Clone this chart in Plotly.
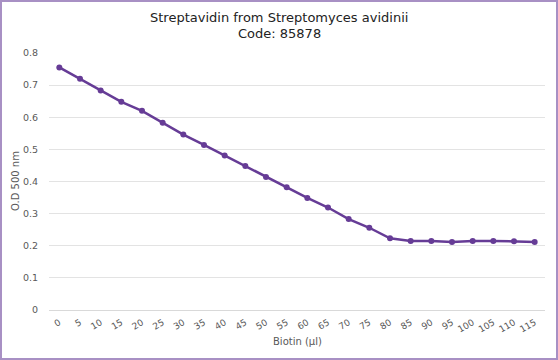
import plotly.graph_objects as go

biotin = [0, 5, 10, 15, 20, 25, 30, 35, 40, 45, 50, 55, 60, 65, 70, 75, 80, 85, 90, 95, 100, 105, 110, 115]
od500 = [0.755, 0.720, 0.683, 0.648, 0.620, 0.583, 0.546, 0.514, 0.481, 0.448, 0.414,
         0.382, 0.349, 0.319, 0.283, 0.256, 0.223, 0.215, 0.215, 0.212, 0.215, 0.215, 0.214, 0.212]
y_ticks = [0, 0.1, 0.2, 0.3, 0.4, 0.5, 0.6, 0.7, 0.8]
y_labels = ["0", "0.1", "0.2", "0.3", "0.4", "0.5", "0.6", "0.7", "0.8"]
title_lines = ["Streptavidin from Streptomyces avidinii", "Code: 85878"]
x_title = "Biotin (µl)"
y_title = "O.D 500 nm"

W, H = 558, 360
L, R, T, B = 49, 13, 53, 50
pw, ph = W - L - R, H - T - B

fig = go.Figure()
fig.add_trace(go.Scatter(
    x=[str(v) for v in biotin], y=od500, mode="lines+markers",
    line=dict(color="#663c96", width=2.5),
    marker=dict(color="#663c96", size=6),
    showlegend=False,
))

def px_x(p):
    return (p - L) / pw

def px_y(p):
    return (H - B - p) / ph

fig.add_shape(type="rect", xref="paper", yref="paper",
              x0=px_x(1), x1=px_x(557), y0=px_y(359), y1=px_y(1),
              line=dict(color="#a890c4", width=2), fillcolor="rgba(0,0,0,0)", layer="below")

for i, txt in enumerate(title_lines):
    fig.add_annotation(text=txt, xref="paper", yref="paper",
                       x=px_x(279), y=px_y(17 + 16 * i), xanchor="center", yanchor="middle",
                       showarrow=False, font=dict(size=13, color="#222222", family="DejaVu Sans"))

fig.add_annotation(text=x_title, xref="paper", yref="paper",
                   x=px_x(297), y=px_y(341), xanchor="center", yanchor="middle",
                   showarrow=False, font=dict(size=10, color="#595959", family="DejaVu Sans"))
fig.add_annotation(text=y_title, xref="paper", yref="paper", textangle=-90,
                   x=px_x(15), y=px_y(181), xanchor="center", yanchor="middle",
                   showarrow=False, font=dict(size=10, color="#595959", family="DejaVu Sans"))

fig.update_layout(
    width=W, height=H,
    margin=dict(l=L, r=R, t=T, b=B, autoexpand=False),
    paper_bgcolor="white", plot_bgcolor="white",
    font=dict(family="DejaVu Sans", color="#595959"),
    xaxis=dict(type="category", range=[-0.5, 23.5], tickangle=-30, automargin=False,
               tickfont=dict(size=9, color="#595959"),
               showgrid=False, showline=True, linecolor="#d9d9d9", linewidth=1,
               ticks="outside", ticklen=3, tickcolor="white"),
    yaxis=dict(range=[0, 0.8], tickvals=y_ticks, ticktext=y_labels, automargin=False,
               tickfont=dict(size=9.5, color="#595959"),
               showgrid=True, gridcolor="#e3e3e3", gridwidth=1, zeroline=False,
               ticks="outside", ticklen=8, tickcolor="white"),
)

fig.write_html("out.html", config={"displayModeBar": False},
               post_script="document.body.style.margin='0';document.body.style.overflow='hidden';")
